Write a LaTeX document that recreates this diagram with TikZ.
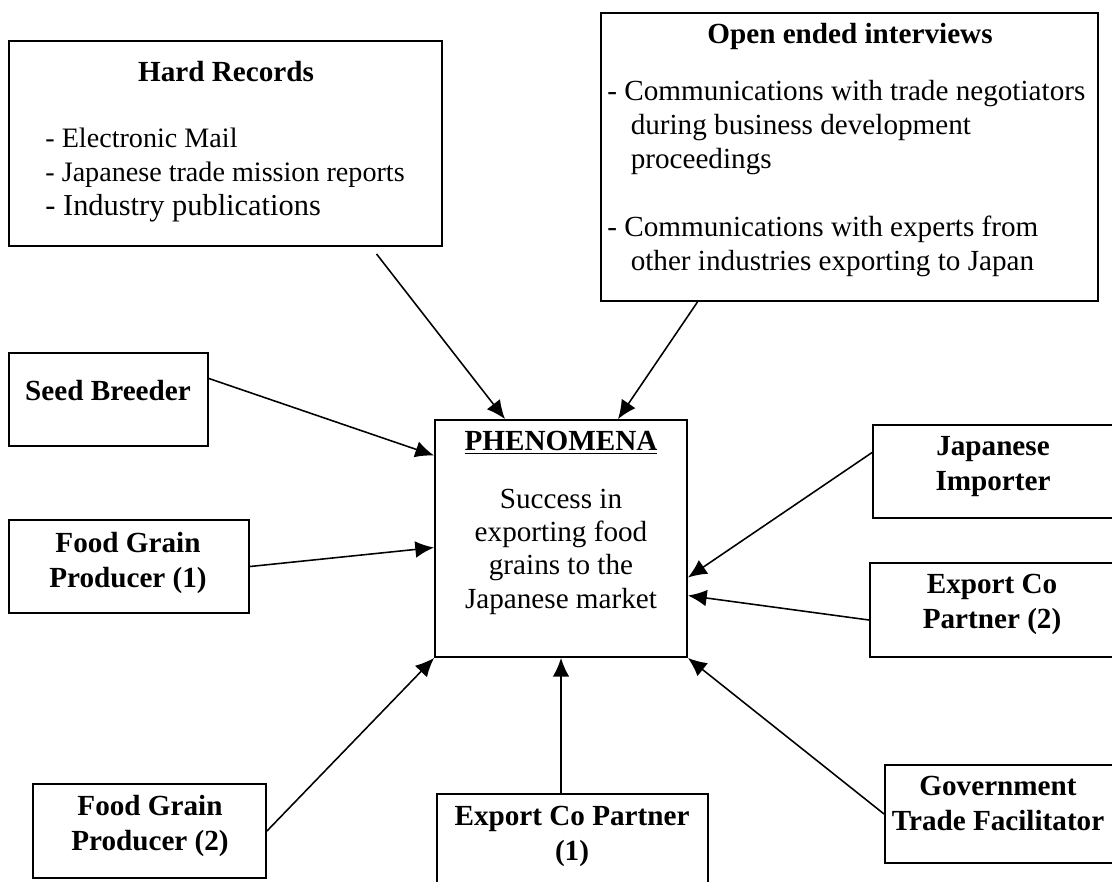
\documentclass[tikz,border=0pt]{standalone}
\usepackage{fontspec}
\setmainfont{Liberation Serif}
\usetikzlibrary{positioning, calc, fit, arrows.meta}

\begin{document}
\begin{tikzpicture}[x=0.48pt, y=-0.48pt,
    every node/.style={font=\fontsize{14}{16}\selectfont},
    box/.style={rectangle, draw, line width=0.9pt, inner sep=0pt},
    title/.style={inner sep=0pt, align=center, font=\fontsize{14}{16.6}\selectfont\bfseries},
    items/.style={inner sep=0pt, align=left, font=\fontsize{14}{16.3}\selectfont},
    link/.style={-{Latex[length=9pt, width=8pt]}, line width=0.75pt}]
    \useasboundingbox (0,0) rectangle (1112,881);

    % Sources of evidence
    \node (hard) [box, fit={(9,41) (442,246)}] {};
    \node (hardtitle) [title, anchor=base] at (226,81) {Hard Records};
    \node (hardlist) [items, anchor=base west, font=\fontsize{13.5}{16.3}\selectfont] at (45,215) {- Electronic Mail\\- Japanese trade mission reports\\{\fontsize{14.6}{16.6}\selectfont - Industry publications}};

    \node (open) [box, fit={(601,13) (1098,301)}] {};
    \node (opentitle) [title, anchor=base] at (850,43) {Open ended interviews};
    \node (openlist) [items, anchor=base west] at (607,270) {- Communications with trade negotiators\\\hspace{0.8em}during business development\\\hspace{0.8em}proceedings\\[16.3pt]- Communications with experts from\\\hspace{0.8em}other industries exporting to Japan};

    % Central box
    \node (pheno) [box, fit={(435,420) (687,657)}] {};
    \node (phenotitle) [title, anchor=base] at (561,450) {\underline{PHENOMENA}};
    \node (phenotext) [inner sep=0pt, align=center, anchor=base] at (561,608) {Success in\\exporting food\\grains to the\\Japanese market};

    % Participants
    \node (seed) [box, fit={(9,353) (208,446)}] {};
    \node (seedtext) [title, anchor=base] at (108,400) {Seed Breeder};
    \node (fgp1) [box, fit={(9,520) (249,613)}] {};
    \node (fgp1text) [title, anchor=base] at (128,587) {Food Grain\\Producer (1)};
    \node (fgp2) [box, fit={(33,784) (266,878)}] {};
    \node (fgp2text) [title, anchor=base] at (150,850) {Food Grain\\Producer (2)};
    \node (exp1) [box, fit={(437,794) (708,895)}] {};
    \node (exp1text) [title, anchor=base] at (572,860) {Export Co Partner\\(1)};
    \node (jap) [box, fit={(873,425) (1118,518)}] {};
    \node (japtext) [title, anchor=base] at (993,490) {Japanese\\Importer};
    \node (exp2) [box, fit={(870,563) (1118,657)}] {};
    \node (exp2text) [title, anchor=base] at (992,628) {Export Co\\Partner (2)};
    \node (gov) [box, fit={(885,765) (1118,863)}] {};
    \node (govtext) [title, anchor=base] at (998,830) {Government\\Trade Facilitator};

    % Links
    \draw[link] ($(hard.south)+(151,7)$) -- ($(pheno.north)+(-56,0)$);
    \draw[link] ($(open.south)+(-152,0)$) -- ($(pheno.north)+(57,0)$);
    \draw[link] ($(seed.east)+(0,-21)$) -- ($(pheno.west)+(0,-83)$);
    \draw[link] (fgp1.east) -- ($(pheno.west)+(0,9)$);
    \draw[link] (fgp2.east) -- (pheno.south west);
    \draw[link] (exp1.north -| pheno.south) -- (pheno.south);
    \draw[link] (gov.west) -- (pheno.south east);
    \draw[link] ($(exp2.west)+(0,10)$) -- ($(pheno.east)+(0,57)$);
    \draw[link] ($(jap.west)+(0,-19)$) -- ($(pheno.east)+(0,39)$);
\end{tikzpicture}
\end{document}
